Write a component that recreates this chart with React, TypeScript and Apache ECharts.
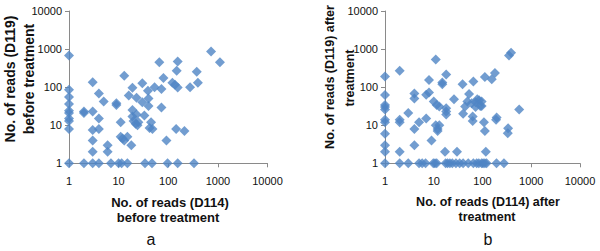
import React, { useEffect, useRef } from "react";
import * as echarts from "echarts";

// Panel a: reads before treatment [D114, D119]
const beforePairs: [number, number][] = [
  [1, 676], [1, 85], [1, 55], [1, 36], [1, 24], [1, 21], [1, 15], [1, 13], [1, 8], [1, 1],
  [2, 23], [2, 21], [3, 135], [3, 23], [3, 7.5], [3, 4], [3, 2], [4, 68], [4, 15], [4, 8],
  [5, 42], [6, 3], [6, 2], [9, 38], [9, 34], [13, 200], [11, 12], [11, 5], [13, 4], [15, 5],
  [12, 4.5], [16, 60], [18, 3], [19, 97], [19, 25], [19, 17], [20, 13], [22, 11], [23, 19],
  [23, 53], [24, 10], [25, 12], [30, 127], [30, 40], [33, 18], [39, 80], [40, 50], [40, 32],
  [45, 12], [42, 8.5], [48, 8], [53, 100], [66, 450], [73, 90], [73, 29], [80, 175], [92, 4],
  [121, 131], [137, 115], [155, 98], [144, 8], [148, 270], [155, 470], [212, 7], [275, 100],
  [375, 255], [395, 130], [730, 860], [1100, 450],
  [2, 1], [3, 1], [4, 1], [7, 1], [10, 1], [11.5, 1], [15, 1], [34, 1], [47, 1], [97, 1],
  [155, 1], [330, 1],
];

// Panel b: reads after treatment [D114, D119]
const afterPairs: [number, number][] = [
  [1, 190], [1, 62], [1, 34], [1, 30], [1, 26], [1, 14], [1, 12], [1, 6], [1, 3], [1, 2], [1, 1],
  [2, 268], [2, 14], [2, 12], [2, 2], [3, 21], [4, 68], [4, 50], [4, 8], [4, 3], [5, 12],
  [7, 63], [8, 72], [7, 15], [8, 155], [9, 4], [11, 530], [10, 42], [11.5, 34], [13, 31],
  [11, 10], [12, 8], [13, 10], [12, 7], [15, 132], [15, 120], [18, 215], [18, 28], [18, 23],
  [18, 19], [17, 2], [30, 2], [26, 48], [39, 120], [40, 20], [44, 31], [49, 42], [53, 66],
  [60, 38], [63, 17], [63, 13], [65, 140], [72, 40], [78, 48], [85, 45], [90, 32], [72, 30],
  [96, 42], [96, 32], [107, 12], [112, 7], [112, 185], [117, 2], [155, 162], [180, 234],
  [190, 14], [195, 16], [335, 8.3], [330, 6.2], [350, 680], [385, 800], [565, 26],
  [2, 1], [3, 1], [5, 1], [5.8, 1], [6.8, 1], [9.8, 1], [10.6, 1], [11.5, 1], [17.5, 1],
  [19.2, 1], [21.4, 1], [24, 1], [28.5, 1], [34, 1], [40, 1], [51, 1], [65, 1], [76, 1],
  [84, 1], [96, 1], [103, 1], [112, 1], [121, 1], [194, 1], [275, 1],
];

const axisMin = 1;
const axisMax = 10000;

const FONT = "'Liberation Sans', Arial, sans-serif";
const TEXT = "#111";
const AXIS = "#8a8a8a";
const DOT = "#4F84C4";

function logAxis(gridIndex: number, isY: boolean) {
  return {
    type: "log",
    logBase: 10,
    gridIndex,
    min: axisMin,
    max: axisMax,
    axisLine: { show: true, lineStyle: { color: AXIS, width: 1 } },
    axisTick: { show: true, length: 4, lineStyle: { color: AXIS } },
    splitLine: { show: false },
    minorTick: { show: false },
    axisLabel: {
      color: TEXT,
      fontSize: 11,
      fontFamily: FONT,
      margin: isY ? 7 : 12,
      formatter: (v: number) => String(Math.round(v)),
    },
  };
}

function txt(x: number, y: number, s: string, size: number, bold: boolean, rot = 0) {
  return {
    type: "text",
    x,
    y,
    rotation: rot,
    style: {
      text: s,
      fill: TEXT,
      font: `${bold ? "bold " : ""}${size}px ${FONT}`,
      textAlign: "center",
      textVerticalAlign: "middle",
    },
  };
}

export default function App() {
  const ref = useRef<HTMLDivElement>(null);
  useEffect(() => {
    document.body.style.margin = "0";
    if (!ref.current) return;
    const chart = echarts.init(ref.current, undefined, { renderer: "svg" });
    chart.setOption({
      animation: false,
      grid: [
        { left: 69, top: 11, width: 198.5, height: 152.3 },
        { left: 385, top: 11, width: 195, height: 152.3 },
      ],
      xAxis: [logAxis(0, false), logAxis(1, false)],
      yAxis: [logAxis(0, true), logAxis(1, true)],
      series: [
        {
          type: "scatter",
          xAxisIndex: 0,
          yAxisIndex: 0,
          data: beforePairs,
          symbol: "diamond",
          symbolSize: 10,
          itemStyle: { color: DOT },
        },
        {
          type: "scatter",
          xAxisIndex: 1,
          yAxisIndex: 1,
          data: afterPairs,
          symbol: "diamond",
          symbolSize: 10,
          itemStyle: { color: DOT },
        },
      ],
      graphic: [
        txt(170, 202, "No. of reads (D114)", 13, true),
        txt(168, 217, "before treatment", 13, true),
        txt(9.5, 79, "No. of reads (D119)", 14, true, Math.PI / 2),
        txt(28.5, 79, "before treatment", 14, true, Math.PI / 2),
        txt(488, 202, "No. of reads (D114) after", 12.5, true),
        txt(487, 217, "treatment", 12.5, true),
        txt(330, 77, "No. of reads (D119) after", 12.5, true, Math.PI / 2),
        txt(350, 78, "treatment", 12.5, true, Math.PI / 2),
        txt(151, 239, "a", 16, false),
        txt(488, 239, "b", 16, false),
      ],
    });
    return () => chart.dispose();
  }, []);
  return <div ref={ref} style={{ width: 600, height: 251 }} />;
}
